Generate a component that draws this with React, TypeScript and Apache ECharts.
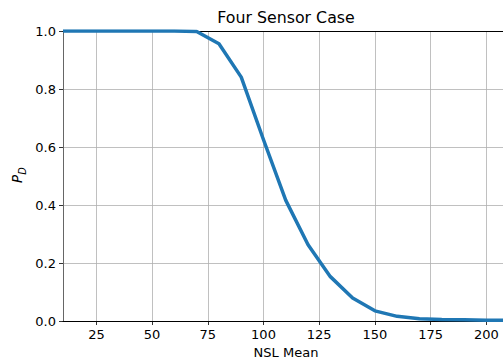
import React, { useEffect, useRef } from "react";
import * as echarts from "echarts";

const nslMean = [10, 20, 30, 40, 50, 60, 70, 80, 90, 100, 110, 120, 130, 140, 150, 160, 170, 180, 190, 200, 210];
const pd = [1.0, 1.0, 1.0, 1.0, 1.0, 1.0, 0.998, 0.956, 0.841, 0.625, 0.416, 0.263, 0.153, 0.079, 0.035, 0.016, 0.008, 0.005, 0.004, 0.003, 0.003];
const xTicks = [25, 50, 75, 100, 125, 150, 175, 200];
const titleText = "Four Sensor Case";
const xLabel = "NSL Mean";

const FONT = "DejaVu Sans";

export default function App() {
  const ref = useRef<HTMLDivElement>(null);
  useEffect(() => {
    if (!ref.current) return;
    const chart = echarts.init(ref.current, null, { renderer: "svg" });
    const data = nslMean.map((x, i) => [x, pd[i]]);
    chart.setOption({
      animation: false,
      grid: { left: 63, right: 0, top: 31, bottom: 41, containLabel: false },
      xAxis: [
        {
          type: "value",
          min: 10,
          max: 207.5,
          axisLine: { show: true, onZero: false, lineStyle: { color: "#000", width: 1 } },
          axisTick: { show: true, length: 4, customValues: xTicks, lineStyle: { color: "#000", width: 0.8 } },
          axisLabel: {
            show: true,
            customValues: xTicks,
            margin: 7,
            fontFamily: FONT,
            fontSize: 13,
            color: "#000",
            formatter: (v: number) => String(v),
          },
          splitLine: { show: true, lineStyle: { color: "#b0b0b0", width: 0.8 } },
        },
        {
          type: "value",
          position: "top",
          min: 10,
          max: 207.5,
          axisLine: { show: true, onZero: false, lineStyle: { color: "#000", width: 1 } },
          axisTick: { show: false },
          axisLabel: { show: false },
          splitLine: { show: false },
        },
      ],
      yAxis: {
        type: "value",
        min: 0,
        max: 1,
        interval: 0.2,
        axisLine: { show: true, onZero: false, lineStyle: { color: "#666", width: 1 } },
        axisTick: { show: true, length: 4, lineStyle: { color: "#000", width: 0.8 } },
        axisLabel: {
          margin: 7,
          fontFamily: FONT,
          fontSize: 13,
          color: "#000",
          formatter: (v: number) => v.toFixed(1),
        },
        splitLine: { show: true, lineStyle: { color: "#b0b0b0", width: 0.8 } },
      },
      graphic: [
        {
          type: "text",
          x: 286,
          y: 17,
          style: { text: titleText, fontFamily: FONT, fontSize: 15.8, fill: "#000", align: "center", verticalAlign: "middle" },
        },
        {
          type: "text",
          x: 286,
          y: 352,
          style: { text: xLabel, fontFamily: FONT, fontSize: 13, fill: "#000", align: "center", verticalAlign: "middle" },
        },
        {
          type: "text",
          x: 17,
          y: 179,
          rotation: Math.PI / 2,
          style: { text: "P", fontFamily: FONT, fontStyle: "italic", fontSize: 13.5, fill: "#000", align: "center", verticalAlign: "middle" },
        },
        {
          type: "text",
          x: 22,
          y: 171,
          rotation: Math.PI / 2,
          style: { text: "D", fontFamily: FONT, fontStyle: "italic", fontSize: 9.8, fill: "#000", align: "center", verticalAlign: "middle" },
        },
      ],
      series: [
        {
          type: "line",
          data,
          xAxisIndex: 0,
          showSymbol: false,
          symbol: "none",
          clip: true,
          lineStyle: { color: "#1f77b4", width: 3.5, join: "round", cap: "butt" },
        },
      ],
    });
    return () => chart.dispose();
  }, []);
  return <div ref={ref} style={{ position: "absolute", left: 0, top: 0, width: 503, height: 362, background: "#fff" }} />;
}
